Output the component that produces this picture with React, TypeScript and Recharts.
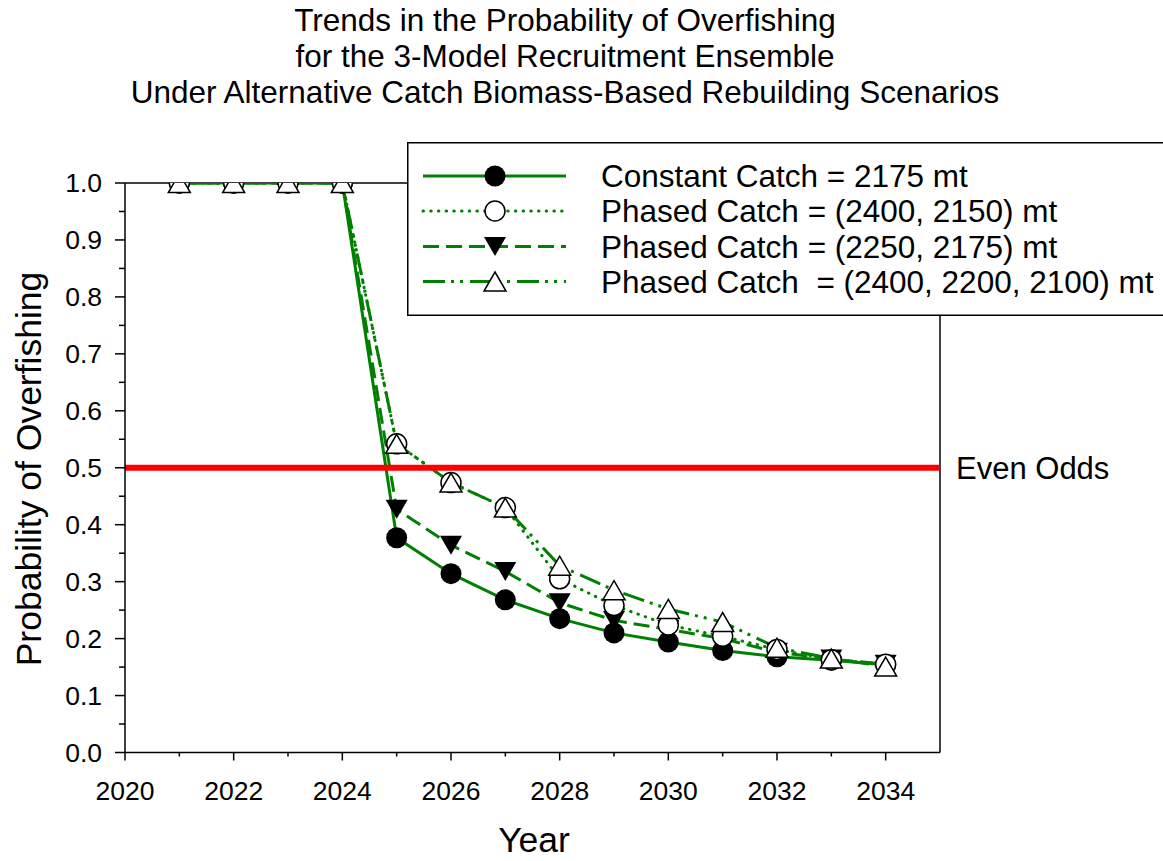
import React from 'react';
import { LineChart, Line, XAxis, YAxis, ReferenceLine, Legend } from 'recharts';

const years = [2021, 2022, 2023, 2024, 2025, 2026, 2027, 2028, 2029, 2030, 2031, 2032, 2033, 2034];
const constantCatch = [1, 1, 1, 1, 0.377, 0.314, 0.268, 0.235, 0.21, 0.194, 0.179, 0.168, 0.162, 0.154];
const phased2400_2150 = [1, 1, 1, 1, 0.542, 0.474, 0.43, 0.305, 0.258, 0.224, 0.204, 0.181, 0.163, 0.155];
const phased2250_2175 = [1, 1, 1, 1, 0.427, 0.364, 0.318, 0.263, 0.232, 0.216, 0.2, 0.176, 0.164, 0.155];
const phased2400_2200_2100 = [1, 1, 1, 1, 0.542, 0.474, 0.43, 0.328, 0.285, 0.252, 0.229, 0.184, 0.165, 0.151];

const seriesNames = [
  'Constant Catch = 2175 mt',
  'Phased Catch = (2400, 2150) mt',
  'Phased Catch = (2250, 2175) mt',
  'Phased Catch  = (2400, 2200, 2100) mt',
];

const xTicks = [2020, 2021, 2022, 2023, 2024, 2025, 2026, 2027, 2028, 2029, 2030, 2031, 2032, 2033, 2034];
const yTicks = [0, 0.05, 0.1, 0.15, 0.2, 0.25, 0.3, 0.35, 0.4, 0.45, 0.5, 0.55, 0.6, 0.65, 0.7, 0.75, 0.8, 0.85, 0.9, 0.95, 1];
const titleLines = [
  'Trends in the Probability of Overfishing',
  'for the 3-Model Recruitment Ensemble',
  'Under Alternative Catch Biomass-Based Rebuilding Scenarios',
];
const xLabel = 'Year';
const yLabel = 'Probability of Overfishing';
const evenOddsValue = 0.5;
const evenOddsLabel = 'Even Odds';

const data = years.map((year, i) => ({
  year,
  c: constantCatch[i],
  p1: phased2400_2150[i],
  p2: phased2250_2175[i],
  p3: phased2400_2200_2100[i],
}));

const FONT = '"Liberation Sans", Arial, Helvetica, sans-serif';
const GREEN = '#008000';

type Kind = 'filledCircle' | 'openCircle' | 'filledTriDown' | 'openTriUp';

function Marker({ cx, cy, kind }: { cx?: number; cy?: number; kind: Kind }) {
  if (cx == null || cy == null || isNaN(cx) || isNaN(cy)) return null;
  if (kind === 'filledCircle') return <circle cx={cx} cy={cy} r={10.5} fill="#000" />;
  if (kind === 'openCircle') return <circle cx={cx} cy={cy} r={10} fill="#fff" stroke="#000" strokeWidth={1.5} />;
  if (kind === 'filledTriDown')
    return <polygon points={`${cx - 11},${cy - 9.5} ${cx + 11},${cy - 9.5} ${cx},${cy + 9.5}`} fill="#000" />;
  return (
    <polygon
      points={`${cx},${cy - 9.5} ${cx + 11},${cy + 9.5} ${cx - 11},${cy + 9.5}`}
      fill="#fff"
      stroke="#000"
      strokeWidth={1.5}
    />
  );
}

const seriesStyles: { key: string; name: string; dash?: string; kind: Kind; cap: 'butt' | 'round' }[] = [
  { key: 'c', name: seriesNames[0], dash: undefined, kind: 'filledCircle', cap: 'butt' },
  { key: 'p2', name: seriesNames[2], dash: '16 7', kind: 'filledTriDown', cap: 'butt' },
  { key: 'p1', name: seriesNames[1], dash: '0.5 7.2', kind: 'openCircle', cap: 'round' },
  { key: 'p3', name: seriesNames[3], dash: '22 6 3 6 3 7', kind: 'openTriUp', cap: 'butt' },
];
const legendOrder = ['c', 'p1', 'p2', 'p3'];

const XTick = (props: any) => {
  const { x, y, payload } = props;
  const v = payload.value;
  const major = v % 2 === 0;
  return (
    <g>
      <line x1={x} x2={x} y1={y} y2={y + (major ? 8 : 4)} stroke="#000" strokeWidth={1.5} />
      {major && (
        <text x={x} y={y + 47} textAnchor="middle" fontSize={26.5} fontFamily={FONT} fill="#000">
          {v}
        </text>
      )}
    </g>
  );
};

const YTick = (props: any) => {
  const { x, y, payload } = props;
  const v = payload.value;
  const major = Math.round(v * 100) % 10 === 0;
  return (
    <g>
      <line x1={x - (major ? 10 : 6)} x2={x} y1={y} y2={y} stroke="#000" strokeWidth={1.5} />
      {major && (
        <text x={x - 23} y={y + 9.4} textAnchor="end" fontSize={26.5} fontFamily={FONT} fill="#000">
          {v.toFixed(1)}
        </text>
      )}
    </g>
  );
};

const LegendBox = () => {
  const rows = [34, 69, 104.5, 139.5];
  return (
    <svg width={756} height={174} style={{ display: 'block' }}>
      <rect x={0.75} y={0.75} width={800} height={172.5} fill="#fff" stroke="#000" strokeWidth={1.5} />
      {legendOrder.map((k, i) => {
        const s = seriesStyles.find((t) => t.key === k)!;
        const cy = rows[i];
        return (
          <g key={k}>
            <line
              x1={16}
              x2={159}
              y1={cy}
              y2={cy}
              stroke={GREEN}
              strokeWidth={3}
              strokeDasharray={s.dash}
              strokeLinecap={s.cap}
            />
            <Marker cx={88} cy={cy} kind={s.kind} />
            <text
              x={194}
              y={cy + 11}
              fontSize={31.5}
              fontFamily={FONT}
              fill="#000"
              style={{ whiteSpace: 'pre' }}
            >
              {s.name}
            </text>
          </g>
        );
      })}
    </svg>
  );
};

export default function App() {
  return (
    <div
      style={{
        position: 'absolute',
        left: 0,
        top: 0,
        width: 1163,
        height: 861,
        overflow: 'hidden',
        background: '#fff',
        fontFamily: FONT,
      }}
    >
      <LineChart width={1163} height={861} data={data} margin={{ top: 183, right: 223, bottom: 107.5, left: 124 }}>
        <XAxis
          dataKey="year"
          type="number"
          domain={[2020, 2035]}
          ticks={xTicks}
          interval={0}
          height={1}
          tickSize={0}
          tickMargin={0}
          tickLine={false}
          axisLine={{ stroke: '#000', strokeWidth: 1.5 }}
          tick={<XTick />}
          allowDataOverflow
        />
        <YAxis
          type="number"
          domain={[0, 1]}
          ticks={yTicks}
          interval={0}
          width={1}
          tickSize={0}
          tickMargin={0}
          tickLine={false}
          axisLine={{ stroke: '#000', strokeWidth: 1.5 }}
          tick={<YTick />}
          allowDataOverflow
        />
        <ReferenceLine y={1} stroke="#000" strokeWidth={1.5} />
        <ReferenceLine x={2035} stroke="#000" strokeWidth={1.5} />
        {seriesStyles.map((s) => (
          <Line
            key={s.key}
            dataKey={s.key}
            name={s.name}
            type="linear"
            stroke={GREEN}
            strokeWidth={3}
            strokeDasharray={s.dash}
            strokeLinecap={s.cap}
            isAnimationActive={false}
            activeDot={false}
            dot={(p: any) => <Marker key={`${s.key}-${p.index}`} cx={p.cx} cy={p.cy} kind={s.kind} />}
          />
        ))}
        <ReferenceLine
          y={evenOddsValue}
          stroke="#ff0000"
          strokeWidth={6}
          label={{ value: evenOddsLabel, position: 'right', offset: 16, fontSize: 31, fill: '#000', fontFamily: FONT }}
        />
        <Legend
          layout="vertical"
          align="center"
          verticalAlign="middle"
          content={() => <LegendBox />}
          wrapperStyle={{ left: 407, top: 142, width: 756, height: 174, margin: 0, padding: 0 }}
        />
      </LineChart>
      <svg
        width={1163}
        height={861}
        style={{ position: 'absolute', left: 0, top: 0, pointerEvents: 'none' }}
      >
        {titleLines.map((t, i) => (
          <text key={i} x={565} y={31 + i * 36} textAnchor="middle" fontSize={31.5} fontFamily={FONT} fill="#000">
            {t}
          </text>
        ))}
        <text x={534} y={852} textAnchor="middle" fontSize={35.5} fontFamily={FONT} fill="#000">
          {xLabel}
        </text>
        <text
          x={0}
          y={0}
          transform="translate(41,469) rotate(-90)"
          textAnchor="middle"
          fontSize={35.5}
          fontFamily={FONT}
          fill="#000"
        >
          {yLabel}
        </text>
      </svg>
    </div>
  );
}
